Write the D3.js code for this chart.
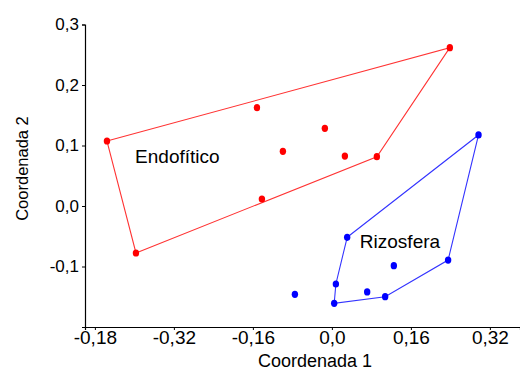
<!DOCTYPE html>
<html><head><meta charset="utf-8">
<script src="https://cdn.jsdelivr.net/npm/d3@7"></script>
<style>body{margin:0;background:#fff}svg{display:block}text{font-family:"Liberation Sans",Arial,sans-serif;fill:#000}</style>
</head><body><svg id="c" width="520" height="373"></svg>
<script>
const endoX = [-0.4555,-0.3968,-0.1518,-0.0992,-0.1417,-0.0142,0.0263,0.0911,0.2389];
const endoY = [0.1074,-0.0777,0.1625,0.0904,0.0116,0.1284,0.0826,0.0815,0.2617];
const endoHull = [0,8,7,1];
const rizoX = [0.2970,0.0310,0.2354,0.1255,0.0081,0.0715,0.1079,0.0047,-0.0749];
const rizoY = [0.1174,-0.0517,-0.0893,-0.0987,-0.1289,-0.1421,-0.1499,-0.1608,-0.1460];
const rizoHull = [1,0,2,6,7,4];
const xTickVals = [-0.48,-0.32,-0.16,0,0.16,0.32];
const xTickLabels = ["-0,18","-0,32","-0,16","0,0","0,16","0,32"];
const yTickVals = [-0.1,0,0.1,0.2,0.3];
const yTickLabels = ["-0,1","0,0","0,1","0,2","0,3"];
const groupNames = ["Endofítico","Rizosfera"];
const groupLabelPos = [[-0.3985,0.0706],[0.0567,-0.0697]];

const svg = d3.select("#c");
const x = d3.scaleLinear().domain([-0.5,0.381]).range([85,520]);
const y = d3.scaleLinear().domain([-0.2,0.3]).range([327,24.5]);

const gx = svg.append("g").attr("transform","translate(0,327)")
  .call(d3.axisBottom(x).tickValues(xTickVals).tickFormat((d,i)=>xTickLabels[i]).tickSizeOuter(0).tickSize(3));
const gy = svg.append("g").attr("transform","translate(85,0)")
  .call(d3.axisLeft(y).tickValues(yTickVals).tickFormat((d,i)=>yTickLabels[i]).tickSizeOuter(0).tickSize(3));
[gx,gy].forEach(g=>{g.select(".domain").attr("stroke","#000").attr("stroke-width",1.2);
  g.selectAll(".tick line").attr("stroke","#000");
  g.selectAll("text").attr("font-family","Liberation Sans, Arial, sans-serif").attr("fill","#000");});
gx.selectAll("text").attr("font-size",19).attr("y",4).attr("dy","0.71em");
gy.selectAll("text").attr("font-size",17).attr("x",-6);

function drawGroup(xs,ys,hull,color,lineColor){
  const line = d3.line().x(i=>x(xs[i])).y(i=>y(ys[i]));
  svg.append("path").attr("d",line(hull.concat([hull[0]]))).attr("fill","none").attr("stroke",lineColor).attr("stroke-width",1.1);
  svg.append("g").selectAll("ellipse").data(xs.map((v,i)=>i)).join("ellipse")
    .attr("cx",i=>x(xs[i])).attr("cy",i=>y(ys[i])).attr("rx",3.2).attr("ry",3.6).attr("fill",color);
}
drawGroup(endoX,endoY,endoHull,"#ff0000","#ff3333");
drawGroup(rizoX,rizoY,rizoHull,"#0000ff","#3333ff");

groupNames.forEach((n,i)=>{
  svg.append("text").attr("x",x(groupLabelPos[i][0])).attr("y",y(groupLabelPos[i][1])).attr("font-size",19).text(n);
});

svg.append("text").attr("x",315).attr("y",367).attr("text-anchor","middle").attr("font-size",18).text("Coordenada 1");
svg.append("text").attr("transform","translate(28,168.5) rotate(-90)").attr("text-anchor","middle").attr("font-size",16.5).text("Coordenada 2");
</script></body></html>
